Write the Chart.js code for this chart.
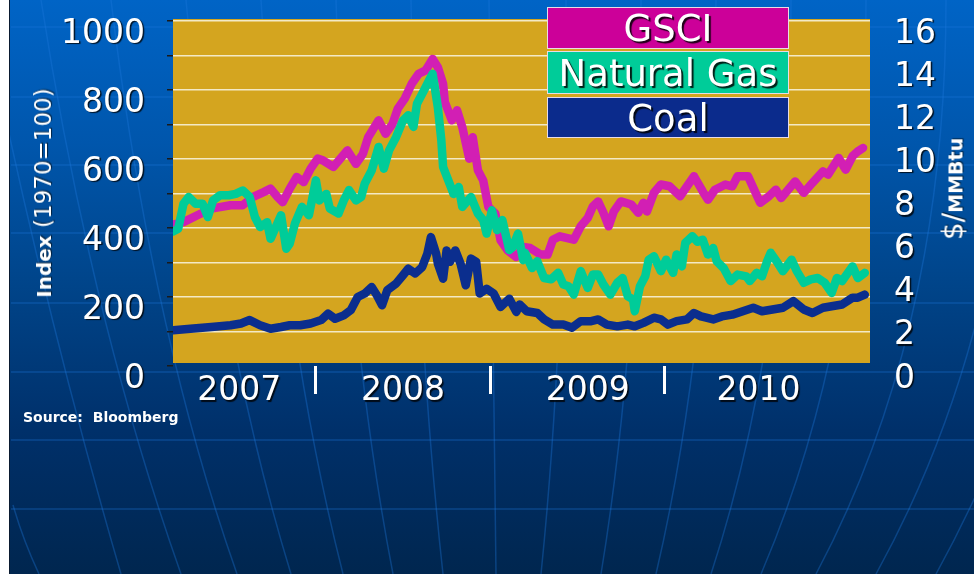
<!DOCTYPE html>
<html>
<head>
<meta charset="utf-8">
<script src="https://cdn.jsdelivr.net/npm/chart.js@4/dist/chart.umd.min.js"></script>
<style>
  html, body { margin: 0; padding: 0; background: #ffffff; }
  #wrap { position: relative; width: 974px; height: 574px; overflow: hidden; background: #ffffff; font-family: 'DejaVu Sans', Verdana, sans-serif; }
  #slide { position: absolute; left: 9px; top: 0; width: 965px; height: 574px;
    background: linear-gradient(to bottom, #0064C6 0%, #0056AC 25%, #004489 50%, #00306A 75%, #00264F 100%);
    border-left: 1px solid #0a1a30; overflow: hidden; }
  #deco { position: absolute; left: -9px; top: 0; }
  #c { position: absolute; left: 0; top: 0; }
  .leg { position: absolute; left: 547px; width: 242px; color: #fff; text-align: center; font-size: 37px;
    border: 1px solid #E6DCE6; text-shadow: 2px 2px 1px rgba(0,0,0,0.85); box-sizing: border-box; white-space: nowrap; }
  .ttl { position: absolute; color: #fff; white-space: nowrap; transform: translate(-50%, -50%) rotate(-90deg);
    text-shadow: 1px 1px 1px rgba(0,0,0,0.6); }
  #src { position: absolute; left: 23px; top: 409px; color: #fff; font-size: 14px; font-weight: bold; line-height: 16px; white-space: pre; }
</style>
</head>
<body>
<div id="wrap">
  <div id="slide">
  <svg id="deco" width="974" height="574" viewBox="0 0 974 574">
    <g stroke="#1E78DC" stroke-opacity="0.35" stroke-width="1.5" fill="none">
      <line x1="10" y1="27" x2="974" y2="27"/>
      <line x1="10" y1="97" x2="974" y2="97"/>
      <line x1="10" y1="165" x2="974" y2="165"/>
      <line x1="10" y1="233" x2="974" y2="233"/>
      <line x1="10" y1="303" x2="974" y2="303"/>
      <line x1="10" y1="372" x2="974" y2="372"/>
      <line x1="10" y1="440" x2="974" y2="440"/>
      <line x1="10" y1="509" x2="974" y2="509"/>
      <path d="M -20 0 Q 40 300 120 574"/>
      <path d="M 40 0 Q 90 320 180 574"/>
      <path d="M 110 0 Q 150 330 236 574"/>
      <path d="M 185 0 Q 215 330 290 574"/>
      <path d="M 260 0 Q 280 330 342 574"/>
      <path d="M 335 0 Q 345 330 392 574"/>
      <path d="M 410 0 Q 415 330 442 574"/>
      <path d="M 488 0 Q 492 330 495 574"/>
      <path d="M 565 0 Q 565 330 540 574"/>
      <path d="M 640 0 Q 640 330 600 574"/>
      <path d="M 715 0 Q 712 330 655 574"/>
      <path d="M 790 0 Q 790 330 710 574"/>
      <path d="M 865 0 Q 865 330 760 574"/>
      <path d="M 945 0 Q 945 330 815 574"/>
      <path d="M 1020 0 Q 1010 330 875 574"/>
      <path d="M 1100 0 Q 1070 330 935 574"/>
      <path d="M 12 505 Q 22 540 38 574"/>
    </g>
  </svg>
  </div>
  <canvas id="c" width="974" height="574"></canvas>
  <div class="leg" style="top:7px;height:42px;line-height:42px;background:#CC0099;">GSCI</div>
  <div class="leg" style="top:51px;height:43px;line-height:43px;background:#00CC99;">Natural Gas</div>
  <div class="leg" style="top:97px;height:41px;line-height:41px;background:#0B2B8C;">Coal</div>
  <div class="ttl" style="left:43px;top:193px;"><span style="font-weight:bold;font-size:20px;">Index</span><span style="font-size:23px;"> (1970=100)</span></div>
  <div class="ttl" style="left:953px;top:189px;"><span style="font-size:28px;">$/</span><span style="font-weight:bold;font-size:19px;">MMBtu</span></div>
  <div id="src">Source:  Bloomberg</div>
</div>
<script>
// ---- Data ----
const seriesNames = ['GSCI', 'Natural Gas', 'Coal'];

// GSCI index (left axis, 1970=100)
const gsciDates = [2007.18,2007.24,2007.32,2007.40,2007.51,2007.58,2007.64,2007.70,2007.74,2007.78,2007.81,2007.85,2007.89,2007.93,2007.97,
  2008.01,2008.04,2008.10,2008.14,2008.18,2008.23,2008.27,2008.30,2008.36,2008.40,2008.44,2008.47,2008.51,2008.55,2008.59,2008.63,2008.67,2008.70,2008.73,2008.74,2008.78,2008.81,2008.84,2008.88,2008.90,2008.93,2008.96,2008.99,
  2009.03,2009.06,2009.10,2009.15,2009.19,2009.23,2009.29,2009.33,2009.36,2009.40,2009.48,2009.52,2009.56,2009.59,2009.62,2009.65,2009.68,2009.71,2009.75,2009.81,2009.85,2009.88,2009.90,2009.94,2009.98,
  2010.03,2010.09,2010.13,2010.17,2010.22,2010.25,2010.29,2010.35,2010.39,2010.42,2010.48,2010.52,2010.55,2010.60,2010.64,2010.67,2010.71,2010.75,2010.80,2010.85,2010.91,2010.94,
  2011.00,2011.04,2011.08,2011.11,2011.14];
const gsciValues = [410,417,437,456,466,466,490,504,514,490,475,514,548,533,572,
  601,596,577,601,625,586,615,663,712,673,702,746,775,818,847,857,890,866,818,765,712,741,693,601,663,567,538,461,
  442,364,335,316,345,342,323,323,366,376,366,405,429,463,477,444,405,448,477,468,444,473,448,502,526,
  521,492,521,550,506,482,511,526,521,550,550,506,473,492,511,487,511,535,502,531,564,555,
  603,569,608,622,632];

// Natural gas ($/MMBtu, right axis)
const gasDates = [2007.18,2007.21,2007.24,2007.27,2007.31,2007.35,2007.38,2007.41,2007.45,2007.50,2007.54,2007.58,2007.62,2007.65,2007.68,2007.72,2007.74,2007.77,2007.80,2007.83,2007.85,2007.88,2007.92,2007.96,
  2008.00,2008.02,2008.06,2008.08,2008.13,2008.16,2008.19,2008.23,2008.26,2008.28,2008.32,2008.36,2008.39,2008.42,2008.46,2008.50,2008.53,2008.56,2008.58,2008.62,2008.65,2008.67,2008.70,2008.72,2008.73,2008.76,2008.79,2008.82,2008.84,2008.89,2008.93,2008.96,2008.98,
  2009.01,2009.04,2009.07,2009.11,2009.13,2009.16,2009.19,2009.20,2009.24,2009.27,2009.31,2009.35,2009.39,2009.42,2009.45,2009.48,2009.52,2009.56,2009.59,2009.62,2009.65,2009.69,2009.73,2009.76,2009.79,2009.82,2009.83,2009.86,2009.89,2009.91,2009.94,2009.98,
  2010.01,2010.05,2010.07,2010.10,2010.12,2010.16,2010.19,2010.22,2010.25,2010.28,2010.30,2010.34,2010.38,2010.42,2010.47,2010.49,2010.53,2010.56,2010.59,2010.61,2010.65,2010.68,2010.73,2010.76,2010.80,2010.84,2010.88,2010.92,2010.96,2010.99,
  2011.02,2011.06,2011.08,2011.11,2011.15];
const gasValues = [6.24,6.37,7.52,7.84,7.52,7.52,6.91,7.68,7.92,7.92,7.98,8.14,7.84,6.91,6.45,6.67,5.90,6.45,6.99,5.44,5.68,6.61,7.38,6.99,
  8.61,7.68,7.98,7.30,7.07,7.68,8.16,7.68,7.84,8.45,9.07,10.16,9.15,10.00,10.61,11.39,11.63,11.09,12.16,12.78,13.25,13.55,12.00,10.46,9.23,8.61,7.98,8.30,7.38,7.84,7.07,6.77,6.14,
  7.22,6.30,6.77,5.38,5.52,6.14,4.91,5.25,4.54,4.86,4.08,4.02,4.32,3.78,3.70,3.31,4.40,3.62,4.24,4.24,3.78,3.31,3.86,4.08,3.23,3.09,2.54,3.70,4.16,4.93,5.09,4.40,
  4.93,4.32,5.17,4.62,5.71,6.02,5.76,5.86,5.17,5.47,4.86,4.54,3.94,4.24,4.16,3.94,4.32,4.16,4.86,5.25,4.78,4.40,4.93,4.40,3.86,4.02,4.08,3.86,3.39,4.08,
  3.94,4.40,4.62,4.08,4.32];

// Coal ($/MMBtu, right axis)
const coalDates = [2007.18,2007.28,2007.40,2007.51,2007.57,2007.62,2007.68,2007.74,2007.80,2007.85,2007.91,2007.97,
  2008.03,2008.07,2008.11,2008.16,2008.20,2008.24,2008.28,2008.32,2008.35,2008.38,2008.41,2008.46,2008.50,2008.53,2008.57,2008.61,2008.64,2008.66,2008.69,2008.70,2008.73,2008.75,2008.77,2008.80,2008.83,2008.86,2008.89,2008.92,2008.94,2008.98,
  2009.02,2009.06,2009.11,2009.15,2009.17,2009.21,2009.27,2009.31,2009.36,2009.42,2009.47,2009.52,2009.58,2009.62,2009.67,2009.73,2009.79,2009.83,2009.88,2009.94,2009.98,
  2010.02,2010.07,2010.13,2010.17,2010.21,2010.24,2010.28,2010.33,2010.39,2010.45,2010.51,2010.56,2010.62,2010.68,2010.74,2010.80,2010.85,2010.91,2010.96,
  2011.02,2011.08,2011.11,2011.15];
const coalValues = [1.66,1.73,1.81,1.89,1.97,2.13,1.89,1.73,1.81,1.89,1.89,1.97,
  2.13,2.43,2.19,2.35,2.59,3.20,3.36,3.66,3.28,2.82,3.52,3.82,4.21,4.51,4.29,4.59,5.22,5.98,5.22,4.75,4.05,5.36,4.83,5.36,4.75,3.74,4.98,4.83,3.36,3.58,
  3.36,2.74,3.12,2.51,2.85,2.54,2.46,2.16,1.92,1.92,1.78,2.08,2.08,2.16,1.92,1.84,1.92,1.84,2.00,2.24,2.16,
  1.92,2.08,2.16,2.46,2.30,2.24,2.16,2.30,2.38,2.54,2.70,2.54,2.62,2.70,3.01,2.62,2.46,2.70,2.77,
  2.85,3.17,3.17,3.31];

// Axis ticks / labels
const leftTickLabels = ['0','200','400','600','800','1000'];
const rightTickLabels = ['0','2','4','6','8','10','12','14','16'];
const xTickValues = [2007.56, 2008.0, 2008.50, 2009.0, 2009.56, 2010.0, 2010.54];
const xTickLabels = ['2007', '', '2008', '', '2009', '', '2010'];

// ---- Chart ----
const pair = (xs, ys) => xs.map((x, i) => ({ x: x, y: ys[i] }));

const shadowPlugin = {
  id: 'labelShadow',
  afterUpdate(chart) {
    Object.values(chart.scales).forEach(s => {
      if (s._shadowPatched) return;
      const orig = s.drawLabels.bind(s);
      s.drawLabels = function (area) {
        const ctx = this.ctx;
        ctx.save();
        ctx.shadowColor = 'rgba(0,0,0,0.8)';
        ctx.shadowOffsetX = 1.5;
        ctx.shadowOffsetY = 1.5;
        ctx.shadowBlur = 1;
        orig(area);
        ctx.restore();
      };
      s._shadowPatched = true;
    });
  }
};

const plotBg = {
  id: 'plotBg',
  beforeDraw(chart) {
    const { ctx, chartArea: a } = chart;
    ctx.save();
    ctx.fillStyle = '#D4A51F';
    ctx.fillRect(a.left, a.top - 2, a.right - a.left, a.bottom - a.top - 1);
    ctx.restore();
  }
};

const noPad = (s) => { s.paddingTop = 0; s.paddingBottom = 0; s.paddingLeft = 0; s.paddingRight = 0; };

Chart.defaults.font.family = "'DejaVu Sans', Verdana, sans-serif";

new Chart(document.getElementById('c'), {
  type: 'line',
  data: {
    datasets: [
      { label: seriesNames[2], data: pair(coalDates, coalValues), yAxisID: 'y2', order: 0,
        borderColor: '#0B2E8E', borderWidth: 8.5 },
      { label: seriesNames[1], data: pair(gasDates, gasValues), yAxisID: 'y2', order: 1,
        borderColor: '#00CC99', borderWidth: 8.5 },
      { label: seriesNames[0], data: pair(gsciDates, gsciValues), yAxisID: 'y', order: 2,
        borderColor: '#D21FB4', borderWidth: 8.5 }
    ]
  },
  options: {
    responsive: false,
    animation: false,
    devicePixelRatio: 1,
    layout: { padding: { top: 21, left: 0, right: 0, bottom: 0 } },
    elements: {
      point: { radius: 0 },
      line: { tension: 0, borderJoinStyle: 'round', borderCapStyle: 'round', fill: false }
    },
    plugins: { legend: { display: false }, tooltip: { enabled: false } },
    scales: {
      x: {
        type: 'linear', position: 'bottom', min: 2007.18, max: 2011.18,
        afterBuildTicks: (s) => { s.ticks = xTickValues.map(v => ({ value: v })); },
        afterFit: (s) => { s.height = 208; noPad(s); },
        border: { display: false },
        grid: {
          drawOnChartArea: false, drawTicks: true, tickLength: 28, tickWidth: 3,
          tickColor: (c) => (xTickLabels[c.index] === '' ? '#FFFFFF' : 'rgba(0,0,0,0)'),
          color: 'rgba(0,0,0,0)'
        },
        ticks: {
          autoSkip: false, maxRotation: 0, minRotation: 0, padding: -22,
          color: '#FFFFFF', font: { size: 33 },
          callback: (v, i) => xTickLabels[i]
        }
      },
      y: {
        position: 'left', min: 0, max: 1000,
        afterFit: (s) => { s.width = 173; noPad(s); },
        border: { display: false },
        grid: {
          color: (c) => (c.tick && c.tick.value === 0 ? 'rgba(0,0,0,0)' : '#F3E9C6'),
          lineWidth: 1.5, tickColor: '#1A1A1A', tickLength: 6, tickWidth: 1.5
        },
        ticks: {
          stepSize: 100, autoSkip: false, padding: 22, labelOffset: 13,
          color: '#FFFFFF', font: { size: 33 },
          callback: (v) => (leftTickLabels.includes(String(v)) ? String(v) : '')
        }
      },
      y2: {
        position: 'right', min: 0, max: 16,
        afterFit: (s) => { s.width = 104; noPad(s); },
        border: { display: false },
        grid: { drawOnChartArea: false, drawTicks: false },
        ticks: {
          stepSize: 2, autoSkip: false, padding: 24, labelOffset: 13,
          color: '#FFFFFF', font: { size: 33 },
          callback: (v) => (rightTickLabels.includes(String(v)) ? String(v) : '')
        }
      }
    }
  },
  plugins: [plotBg, shadowPlugin]
});
</script>
</body>
</html>
